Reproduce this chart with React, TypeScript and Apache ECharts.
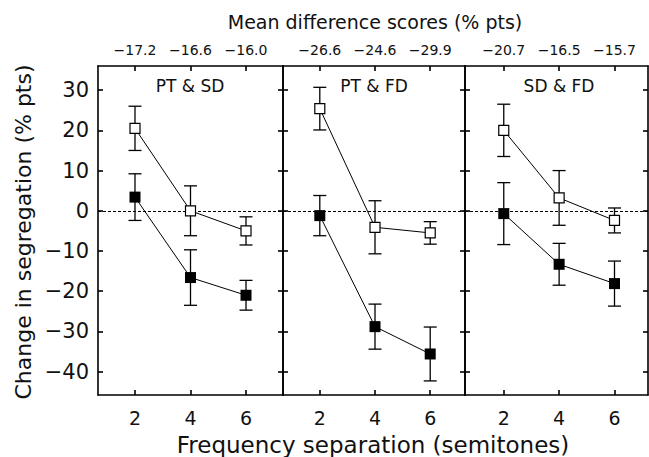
import React, { useEffect, useRef } from "react";
import * as echarts from "echarts";

const panelTitles = ["PT & SD", "PT & FD", "SD & FD"];
const separations = [2, 4, 6];
const topScoreLabels = [
  ["−17.2", "−16.6", "−16.0"],
  ["−26.6", "−24.6", "−29.9"],
  ["−20.7", "−16.5", "−15.7"],
];
const openMeans = [
  [20.5, 0, -5],
  [25.4, -4.1, -5.5],
  [20, 3.2, -2.4],
];
const openErrs = [
  [5.5, 6.2, 3.5],
  [5.3, 6.6, 2.8],
  [6.5, 6.8, 3.1],
];
const filledMeans = [
  [3.4, -16.6, -21],
  [-1.2, -28.8, -35.6],
  [-0.7, -13.3, -18.1],
];
const filledErrs = [
  [5.8, 6.9, 3.7],
  [5, 5.6, 6.7],
  [7.7, 5.2, 5.6],
];
const yTicks = [-40, -30, -20, -10, 0, 10, 20, 30];

const FONT = "DejaVu Sans";
const INK = "#111";

export default function App() {
  const ref = useRef<HTMLDivElement>(null);
  useEffect(() => {
    if (!ref.current) return;
    const chart = echarts.init(ref.current, null, { renderer: "svg" });
    const lefts = [98, 283, 465];
    const widths = [185, 182, 183];
    const xr = [
      [0.667, 7.333],
      [0.667, 7.26],
      [0.6, 7.21],
    ];
    const top = 66;
    const height = 329;
    const yMin = -45.8;
    const yMax = 36;
    const axisLineStyle = { color: "#000", width: 1.6 };
    const grids: any[] = [];
    const xAxes: any[] = [];
    const yAxes: any[] = [];
    const series: any[] = [];
    const graphics: any[] = [];
    const minusFmt = (v: number) => (v < 0 ? "−" + Math.abs(v) : String(v));

    for (let i = 0; i < 3; i++) {
      grids.push({ left: lefts[i], width: widths[i], top, height, containLabel: false });
      xAxes.push({
        gridIndex: i,
        type: "value",
        position: "bottom",
        min: xr[i][0],
        max: xr[i][1],
        axisLine: { show: true, onZero: false, lineStyle: axisLineStyle },
        axisTick: { show: true, inside: true, length: 5, customValues: separations, lineStyle: axisLineStyle },
        axisLabel: { show: true, customValues: separations, fontSize: 19, fontFamily: FONT, color: INK, margin: 13 },
        splitLine: { show: false },
      });
      xAxes.push({
        gridIndex: i,
        type: "value",
        position: "top",
        min: xr[i][0],
        max: xr[i][1],
        axisLine: { show: true, onZero: false, lineStyle: axisLineStyle },
        axisTick: { show: true, inside: true, length: 5, customValues: separations, lineStyle: axisLineStyle },
        axisLabel: {
          show: true,
          customValues: separations,
          fontSize: 14,
          fontFamily: FONT,
          color: INK,
          margin: 9,
          formatter: (v: number) => topScoreLabels[i][separations.indexOf(v)] ?? "",
        },
        splitLine: { show: false },
      });
      yAxes.push({
        gridIndex: i,
        type: "value",
        position: "left",
        min: yMin,
        max: yMax,
        axisLine: { show: true, onZero: false, lineStyle: axisLineStyle },
        axisTick: { show: true, inside: true, length: 5, customValues: yTicks, lineStyle: axisLineStyle },
        axisLabel: {
          show: i === 0,
          customValues: yTicks,
          fontSize: 21,
          fontFamily: FONT,
          color: INK,
          margin: 9,
          formatter: minusFmt,
        },
        splitLine: { show: false },
      });
      yAxes.push({
        gridIndex: i,
        type: "value",
        position: "right",
        min: yMin,
        max: yMax,
        axisLine: { show: true, onZero: false, lineStyle: axisLineStyle },
        axisTick: { show: true, inside: true, length: 5, customValues: yTicks, lineStyle: axisLineStyle },
        axisLabel: { show: false },
        splitLine: { show: false },
      });

      const xi = i * 2;
      const yi = i * 2;
      const errData: number[][] = [];
      separations.forEach((x, j) => {
        errData.push([x, openMeans[i][j] - openErrs[i][j], openMeans[i][j] + openErrs[i][j]]);
        errData.push([x, filledMeans[i][j] - filledErrs[i][j], filledMeans[i][j] + filledErrs[i][j]]);
      });
      series.push({
        type: "custom",
        xAxisIndex: xi,
        yAxisIndex: yi,
        data: errData,
        z: 2,
        silent: true,
        encode: { x: 0, y: [1, 2] },
        renderItem: (_p: any, api: any) => {
          const x = api.value(0);
          const lo = api.coord([x, api.value(1)]);
          const hi = api.coord([x, api.value(2)]);
          const cap = 6.5;
          const st = { stroke: "#000", lineWidth: 1.3 };
          return {
            type: "group",
            children: [
              { type: "line", shape: { x1: hi[0], y1: hi[1], x2: lo[0], y2: lo[1] }, style: st },
              { type: "line", shape: { x1: hi[0] - cap, y1: hi[1], x2: hi[0] + cap, y2: hi[1] }, style: st },
              { type: "line", shape: { x1: lo[0] - cap, y1: lo[1], x2: lo[0] + cap, y2: lo[1] }, style: st },
            ],
          };
        },
      });
      series.push({
        type: "line",
        xAxisIndex: xi,
        yAxisIndex: yi,
        data: separations.map((x, j) => [x, filledMeans[i][j]]),
        symbol: "rect",
        symbolSize: 11,
        itemStyle: { color: "#000", borderColor: "#000", borderWidth: 0 },
        lineStyle: { color: "#000", width: 1 },
        z: 3,
        markLine: {
          silent: true,
          symbol: ["none", "none"],
          label: { show: false },
          lineStyle: { color: "#000", width: 1, type: [3, 2] },
          data: [{ yAxis: 0 }],
          z: 1,
        },
      });
      series.push({
        type: "line",
        xAxisIndex: xi,
        yAxisIndex: yi,
        data: separations.map((x, j) => [x, openMeans[i][j]]),
        symbol: "rect",
        symbolSize: 10,
        itemStyle: { color: "#fff", borderColor: "#000", borderWidth: 1.2 },
        lineStyle: { color: "#000", width: 1 },
        z: 4,
      });
    }

    const titleCenters = [190, 374, 559];
    panelTitles.forEach((t, i) => {
      graphics.push({
        type: "text",
        x: titleCenters[i],
        y: 86,
        style: { text: t, fontSize: 17, fontFamily: FONT, fill: INK, textAlign: "center", textVerticalAlign: "middle" },
      });
    });
    graphics.push({
      type: "text",
      x: 375,
      y: 22,
      style: { text: "Mean difference scores (% pts)", fontSize: 19, fontFamily: FONT, fill: INK, textAlign: "center", textVerticalAlign: "middle" },
    });
    graphics.push({
      type: "text",
      x: 373,
      y: 445,
      style: { text: "Frequency separation (semitones)", fontSize: 23, fontFamily: FONT, fill: INK, textAlign: "center", textVerticalAlign: "middle" },
    });
    graphics.push({
      type: "text",
      x: 23,
      y: 232,
      rotation: Math.PI / 2,
      style: { text: "Change in segregation (% pts)", fontSize: 22, fontFamily: FONT, fill: INK, textAlign: "center", textVerticalAlign: "middle" },
    });

    chart.setOption({
      animation: false,
      backgroundColor: "#fff",
      grid: grids,
      xAxis: xAxes,
      yAxis: yAxes,
      series,
      graphic: graphics,
    });
    return () => chart.dispose();
  }, []);
  return <div ref={ref} style={{ position: "fixed", left: 0, top: 0, width: 649, height: 457 }} />;
}
